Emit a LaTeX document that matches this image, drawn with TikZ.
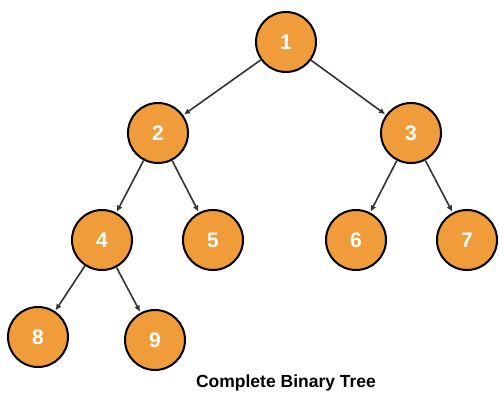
\documentclass[tikz,border=0pt]{standalone}
\usepackage{fontspec}
\setmainfont{Liberation Sans}
\usetikzlibrary{arrows.meta}
\definecolor{nodeorange}{HTML}{F09C3A}
\tikzset{vert/.style={circle,draw=black,line width=2pt,fill=nodeorange,minimum size=60pt,inner sep=0pt,text=white,font=\fontsize{21}{23}\selectfont\bfseries},
edge/.style={-{Latex[length=6pt,width=6pt]},draw=black!80,line width=1.6pt,shorten >=1pt}}
\begin{document}
\begin{tikzpicture}[x=1pt,y=-1pt]
\useasboundingbox(0,0)rectangle(499,396);
\node[vert](n1)at(286,42){1};\node[vert](n2)at(158,133){2};\node[vert](n3)at(411,133){3};
\node[vert](n4)at(102,240){4};\node[vert](n5)at(213,240){5};\node[vert](n6)at(356,240){6};\node[vert](n7)at(467,240){7};
\node[vert](n8)at(38,337){8};\node[vert](n9)at(155,340){9};
\draw[edge](n1)--(n2);\draw[edge](n1)--(n3);
\draw[edge](n2)--(n4);\draw[edge](n2)--(n5);\draw[edge](n3)--(n6);\draw[edge](n3)--(n7);
\draw[edge](n4)--(n8);\draw[edge](n4)--(n9);
\node[font=\fontsize{17.5}{19}\selectfont\bfseries](cap)at(286,383){Complete Binary Tree};
\end{tikzpicture}
\end{document}
